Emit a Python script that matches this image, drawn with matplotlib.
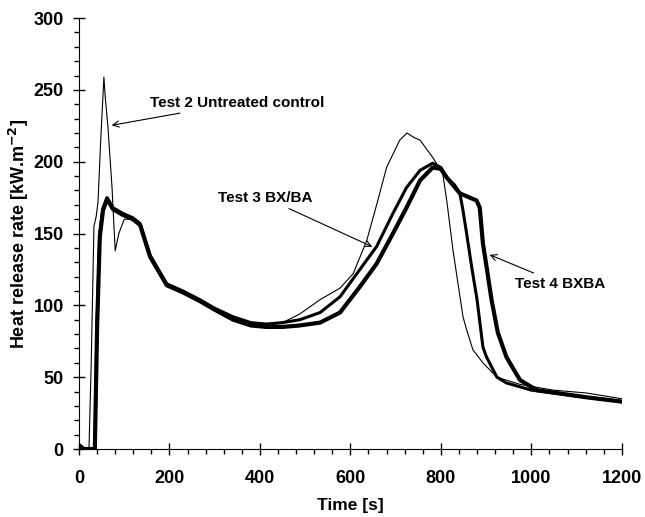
import matplotlib
matplotlib.use("Agg")
import matplotlib.pyplot as plt
from matplotlib.ticker import MultipleLocator

# Test 2 Untreated control (thin line)
t2_time = [0, 8, 15, 22, 27, 33, 38, 42, 48, 55, 58, 64, 73, 80, 88, 100, 120, 135, 157,
           194, 230, 267, 300, 341, 380, 414, 450, 488, 533, 577, 606, 636, 658, 680,
           709, 725, 740, 754, 782, 804, 813, 827, 849, 857, 871, 893, 924, 975,
           1048, 1122, 1200]
t2_hrr = [4, 2, 0, 0, 60, 155, 162, 172, 215, 259, 245, 224, 182, 138, 150, 160, 160, 157, 135,
          115, 110, 104, 98, 92, 88, 86, 88, 94, 104, 112, 122, 145, 170, 196,
          215, 220, 217, 215, 203, 192, 173, 138, 92, 83, 69, 60, 50, 45,
          41, 39, 35]

# Test 3 BX/BA (medium line)
t3_time = [0, 10, 20, 35, 40, 46, 53, 62, 75, 97, 119, 135, 157, 194, 230, 267, 300, 341,
           380, 414, 450, 488, 533, 577, 621, 658, 694, 724, 754, 782, 800, 813, 830,
           842, 849, 857, 868, 880, 893, 901, 924, 945, 1000, 1048, 1122, 1200]
t3_hrr = [2, 0, 0, 0, 90, 150, 168, 175, 168, 164, 161, 157, 135, 115, 110, 104, 98, 92,
          88, 87, 88, 90, 95, 106, 125, 141, 164, 182, 194, 199, 196, 189, 184,
          178, 166, 150, 127, 104, 71, 64, 50, 46, 41, 39, 36, 33]

# Test 4 BXBA (thick line)
t4_time = [0, 10, 20, 35, 40, 46, 53, 62, 75, 97, 119, 135, 157, 194, 230, 267, 300, 341,
           380, 414, 450, 488, 533, 577, 621, 658, 694, 724, 754, 782, 800, 813, 842,
           864, 879, 886, 893, 901, 912, 926, 945, 975, 1012, 1122, 1200]
t4_hrr = [2, 0, 0, 0, 85, 148, 166, 174, 167, 163, 160, 156, 134, 114, 109, 103, 97, 90,
          86, 85, 85, 86, 88, 95, 113, 129, 150, 168, 187, 196, 195, 189, 178,
          175, 173, 168, 143, 127, 104, 81, 64, 48, 41, 36, 33]

fig, ax = plt.subplots(figsize=(6.45, 5.17), dpi=100)
fig.subplots_adjust(left=0.1225, right=0.964, bottom=0.1315, top=0.965)

plt.rcParams['font.family'] = ['Liberation Sans', 'DejaVu Sans']
font = dict(family=['Liberation Sans', 'DejaVu Sans'], weight='bold')

ax.plot(t2_time, t2_hrr, color='black', lw=0.8)
ax.plot(t3_time, t3_hrr, color='black', lw=2.2)
ax.plot(t4_time, t4_hrr, color='black', lw=3.0)

ax.set_xlim(0, 1200)
ax.set_ylim(0, 300)
ax.xaxis.set_major_locator(MultipleLocator(200))
ax.xaxis.set_minor_locator(MultipleLocator(40))
ax.yaxis.set_major_locator(MultipleLocator(50))
ax.yaxis.set_minor_locator(MultipleLocator(10))
ax.tick_params(which='major', direction='inout', length=8, width=1)
ax.tick_params(axis='x', which='major', pad=11)
ax.tick_params(axis='y', which='major', pad=7)
ax.tick_params(which='minor', direction='out', length=3.5, width=1)
for lab in ax.get_xticklabels() + ax.get_yticklabels():
    lab.set_fontproperties('Liberation Sans')
    lab.set_fontweight('bold')
    lab.set_fontsize(13)

ax.spines['top'].set_visible(False)
ax.spines['right'].set_visible(False)

ax.set_xlabel("Time [s]", fontsize=12.5, labelpad=8, **font)
ax.set_ylabel("Heat release rate [kW.m$^{\\mathbf{-2}}$]", fontsize=13, labelpad=2, **font)

arrow = dict(arrowstyle='->', color='black', lw=0.8)
ax.annotate("Test 2 Untreated control", xy=(66, 225), xytext=(157, 241),
            fontsize=11, va='center', arrowprops=arrow, **font)
ax.annotate("Test 3 BX/BA", xy=(654, 140), xytext=(307, 175),
            fontsize=11, va='center', arrowprops=arrow, **font)
ax.annotate("Test 4 BXBA", xy=(902, 136), xytext=(963, 115),
            fontsize=11, va='center', arrowprops=arrow, **font)

plt.savefig("out.png", dpi=100)
